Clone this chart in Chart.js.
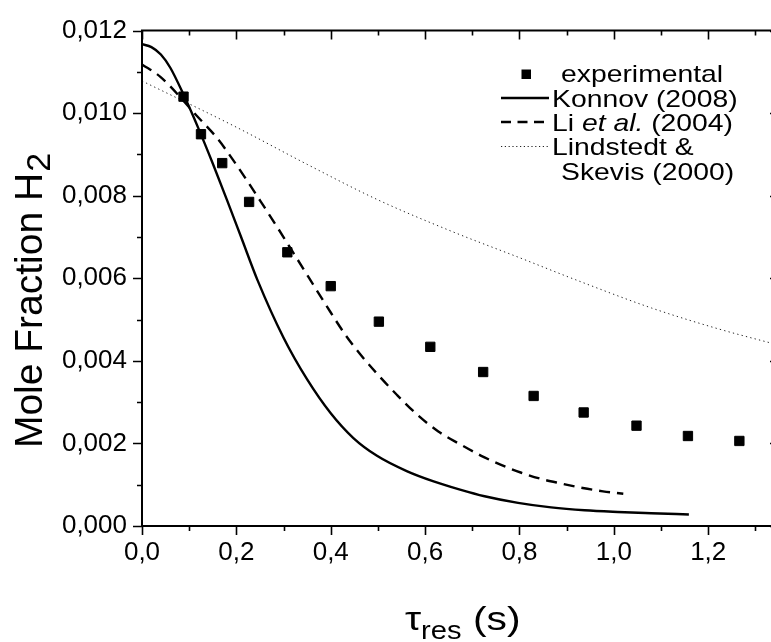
<!DOCTYPE html>
<html>
<head>
<meta charset="utf-8">
<script src="https://cdn.jsdelivr.net/npm/chart.js@4/dist/chart.umd.min.js"></script>
<style>
  html, body { margin: 0; padding: 0; background: #fff; overflow: hidden; }
  #wrap { width: 790px; height: 642px; }
</style>
</head>
<body>
<div id="wrap"><canvas id="h2Chart" width="790" height="642"></canvas></div>
<script>
// datos
const expX = [0.088, 0.125, 0.170, 0.227, 0.308, 0.400, 0.502, 0.611, 0.723, 0.830, 0.936, 1.048, 1.157, 1.266];
const expY = [0.0104, 0.00949, 0.00879, 0.00785, 0.00663, 0.00581, 0.00495, 0.00434, 0.00373, 0.00315, 0.00275, 0.00243, 0.00218, 0.00206];

const konnovX = [0, 0.02, 0.04, 0.06, 0.088, 0.12, 0.15, 0.18, 0.21, 0.245, 0.30, 0.35, 0.40, 0.448, 0.498, 0.561, 0.618, 0.674, 0.726, 0.797, 0.867, 0.938, 1.008, 1.079, 1.159];
const konnovY = [0.01167, 0.0116, 0.01142, 0.0111, 0.01045, 0.00962, 0.00878, 0.0079, 0.007, 0.00595, 0.00456, 0.00355, 0.00273, 0.00213, 0.0017, 0.00133, 0.00108, 0.00088, 0.00072, 0.00056, 0.00045, 0.00038, 0.00034, 0.00031, 0.00028];

const liX = [0, 0.039, 0.1165, 0.159, 0.191, 0.2225, 0.251, 0.286, 0.314, 0.342, 0.367, 0.399, 0.431, 0.4625, 0.498, 0.540, 0.583, 0.628, 0.674, 0.719, 0.761, 0.804, 0.846, 0.888, 0.934, 0.977, 1.02];
const liY = [0.01118, 0.01088, 0.00993, 0.0094, 0.0089, 0.00837, 0.00787, 0.00725, 0.00674, 0.00623, 0.00577, 0.00519, 0.00463, 0.00416, 0.00369, 0.00318, 0.0027, 0.00229, 0.00198, 0.0017, 0.00148, 0.00129, 0.00114, 0.00103, 0.00092, 0.00084, 0.00078];

const lindX = [0, 0.2, 0.35, 0.5, 0.66, 0.8, 0.92, 1.08, 1.22, 1.35];
const lindY = [0.01078, 0.00966, 0.00876, 0.0079, 0.00712, 0.0065, 0.00596, 0.00528, 0.00478, 0.00438];

const seriesNames = ['experimental', 'Konnov (2008)', 'Li et al. (2004)', 'Lindstedt & Skevis (2000)'];
const legendLines = [['experimental'], ['Konnov (2008)'], ['Li ', 'et al.', ' (2004)'], ['Lindstedt &', 'Skevis (2000)']];
const yTitle = ['Mole Fraction H', '2'];
const xTitle = ['\u03C4', 'res', ' (s)'];

const FONT = "'Liberation Sans', Arial, sans-serif";

function pts(xs, ys) {
  return xs.map((x, i) => ({ x: x, y: ys[i] }));
}

function drawStretched(ctx, str, x, y, font, sx) {
  ctx.save();
  ctx.font = font;
  const w = ctx.measureText(str).width * sx;
  ctx.translate(x, y);
  ctx.scale(sx, 1);
  ctx.fillText(str, 0, 0);
  ctx.restore();
  return w;
}

// ejes, marcas menores/mayores, titulos y leyenda
const marcoPlugin = {
  id: 'marco',
  afterDraw(chart) {
    const ctx = chart.ctx;
    const a = chart.chartArea;
    const xs = chart.scales.x;
    const ys = chart.scales.y;
    ctx.save();
    ctx.strokeStyle = '#000';
    ctx.lineWidth = 2;
    ctx.beginPath();
    ctx.moveTo(a.left, a.top); ctx.lineTo(a.right, a.top);
    ctx.moveTo(a.left, a.bottom); ctx.lineTo(a.right, a.bottom);
    ctx.moveTo(a.left, a.top - 1); ctx.lineTo(a.left, a.bottom + 1);
    ctx.moveTo(a.right, a.top - 1); ctx.lineTo(a.right, a.bottom + 1);
    ctx.stroke();

    ctx.lineWidth = 1.6;
    ctx.beginPath();
    xs.ticks.forEach(t => {
      const k = Math.round(t.value * 10);
      const len = k % 2 === 0 ? 9 : 5;
      const p = Math.round(xs.getPixelForValue(t.value)) + 0.5;
      ctx.moveTo(p, a.bottom); ctx.lineTo(p, a.bottom + len);
      ctx.moveTo(p, a.top); ctx.lineTo(p, a.top + len);
    });
    ys.ticks.forEach(t => {
      const k = Math.round(t.value * 1000);
      const len = k % 2 === 0 ? 9 : 5;
      const p = Math.round(ys.getPixelForValue(t.value)) + 0.5;
      ctx.moveTo(a.left - len, p); ctx.lineTo(a.left, p);
      ctx.moveTo(a.right - len, p); ctx.lineTo(a.right, p);
    });
    ctx.stroke();

    // titulo eje y
    ctx.fillStyle = '#000';
    ctx.textBaseline = 'alphabetic';
    ctx.textAlign = 'left';
    ctx.font = '39px ' + FONT;
    const wMain = ctx.measureText(yTitle[0]).width;
    ctx.font = '34px ' + FONT;
    const wSub = ctx.measureText(yTitle[1]).width;
    const yStart = 301 + (wMain + wSub) / 2;
    ctx.save();
    ctx.translate(42, yStart);
    ctx.rotate(-Math.PI / 2);
    ctx.font = '39px ' + FONT;
    ctx.fillText(yTitle[0], 0, 0);
    ctx.font = '34px ' + FONT;
    ctx.fillText(yTitle[1], wMain + 1, 8);
    ctx.restore();

    // titulo eje x
    let cx = 405;
    cx += drawStretched(ctx, xTitle[0], cx, 630, '34px ' + FONT, 1.2);
    cx += drawStretched(ctx, xTitle[1], cx, 639, '26px ' + FONT, 1.12);
    drawStretched(ctx, xTitle[2], cx, 630, '34px ' + FONT, 1.2);

    // leyenda
    const lf = '24px ' + FONT;
    const lfi = 'italic 24px ' + FONT;
    const sx = 1.18;
    ctx.fillStyle = '#000';
    ctx.fillRect(521.5, 69.5, 9.5, 9.5);
    drawStretched(ctx, legendLines[0][0], 561, 82, lf, sx);

    ctx.lineWidth = 2.4;
    ctx.setLineDash([]);
    ctx.beginPath(); ctx.moveTo(501, 98); ctx.lineTo(549, 98); ctx.stroke();
    drawStretched(ctx, legendLines[1][0], 552, 106.5, lf, sx);

    ctx.setLineDash([10, 6.5]);
    ctx.beginPath(); ctx.moveTo(501, 122); ctx.lineTo(549, 122); ctx.stroke();
    let lx = 552;
    lx += drawStretched(ctx, legendLines[2][0], lx, 131, lf, sx);
    lx += drawStretched(ctx, legendLines[2][1], lx, 131, lfi, sx);
    drawStretched(ctx, legendLines[2][2], lx, 131, lf, sx);

    ctx.lineWidth = 1;
    ctx.setLineDash([1.2, 2.6]);
    ctx.strokeStyle = '#222';
    ctx.beginPath(); ctx.moveTo(501, 146.5); ctx.lineTo(549, 146.5); ctx.stroke();
    ctx.setLineDash([]);
    drawStretched(ctx, legendLines[3][0], 552, 155, lf, sx);
    drawStretched(ctx, legendLines[3][1], 561, 180, lf, sx);
    ctx.restore();
  }
};

const ctxH2 = document.getElementById('h2Chart').getContext('2d');
const h2Chart = new Chart(ctxH2, {
  type: 'scatter',
  data: {
    datasets: [
      {
        label: seriesNames[0],
        data: pts(expX, expY),
        showLine: false,
        pointStyle: 'rect',
        pointRadius: 6.6,
        backgroundColor: '#000',
        borderColor: '#000',
        borderWidth: 1
      },
      {
        label: seriesNames[1],
        data: pts(konnovX, konnovY),
        showLine: true,
        pointRadius: 0,
        borderColor: '#000',
        borderWidth: 2.4,
        cubicInterpolationMode: 'monotone'
      },
      {
        label: seriesNames[2],
        data: pts(liX, liY),
        showLine: true,
        pointRadius: 0,
        borderColor: '#000',
        borderWidth: 2.4,
        borderDash: [11, 7],
        cubicInterpolationMode: 'monotone'
      },
      {
        label: seriesNames[3],
        data: pts(lindX, lindY),
        showLine: true,
        pointRadius: 0,
        borderColor: '#222',
        borderWidth: 1,
        borderDash: [1.3, 3.2],
        cubicInterpolationMode: 'monotone'
      }
    ]
  },
  options: {
    responsive: false,
    animation: false,
    layout: { padding: { top: 25, right: 11, left: 0, bottom: 0 } },
    plugins: {
      legend: { display: false },
      tooltip: { enabled: false }
    },
    scales: {
      x: {
        type: 'linear',
        min: 0,
        max: 1.35,
        grid: { display: false, drawTicks: false },
        border: { display: false },
        ticks: {
          stepSize: 0.1,
          includeBounds: false,
          autoSkip: false,
          maxRotation: 0,
          padding: 11,
          color: '#000',
          font: { family: FONT, size: 26 },
          callback: v => {
            const k = Math.round(v * 10);
            if (Math.abs(v * 10 - k) > 1e-6 || k % 2 !== 0) return '';
            return (k / 10).toFixed(1).replace('.', ',');
          }
        },
        afterFit: s => { s.height = 116; }
      },
      y: {
        min: 0,
        max: 0.012,
        grid: { display: false, drawTicks: false },
        border: { display: false },
        ticks: {
          stepSize: 0.001,
          includeBounds: false,
          autoSkip: false,
          padding: 15,
          color: '#000',
          font: { family: FONT, size: 26 },
          callback: v => {
            const k = Math.round(v * 1000);
            if (k % 2 !== 0) return '';
            return (k / 1000).toFixed(3).replace('.', ',');
          }
        },
        afterFit: s => { s.width = 142; }
      }
    }
  },
  plugins: [marcoPlugin]
});
</script>
</body>
</html>
